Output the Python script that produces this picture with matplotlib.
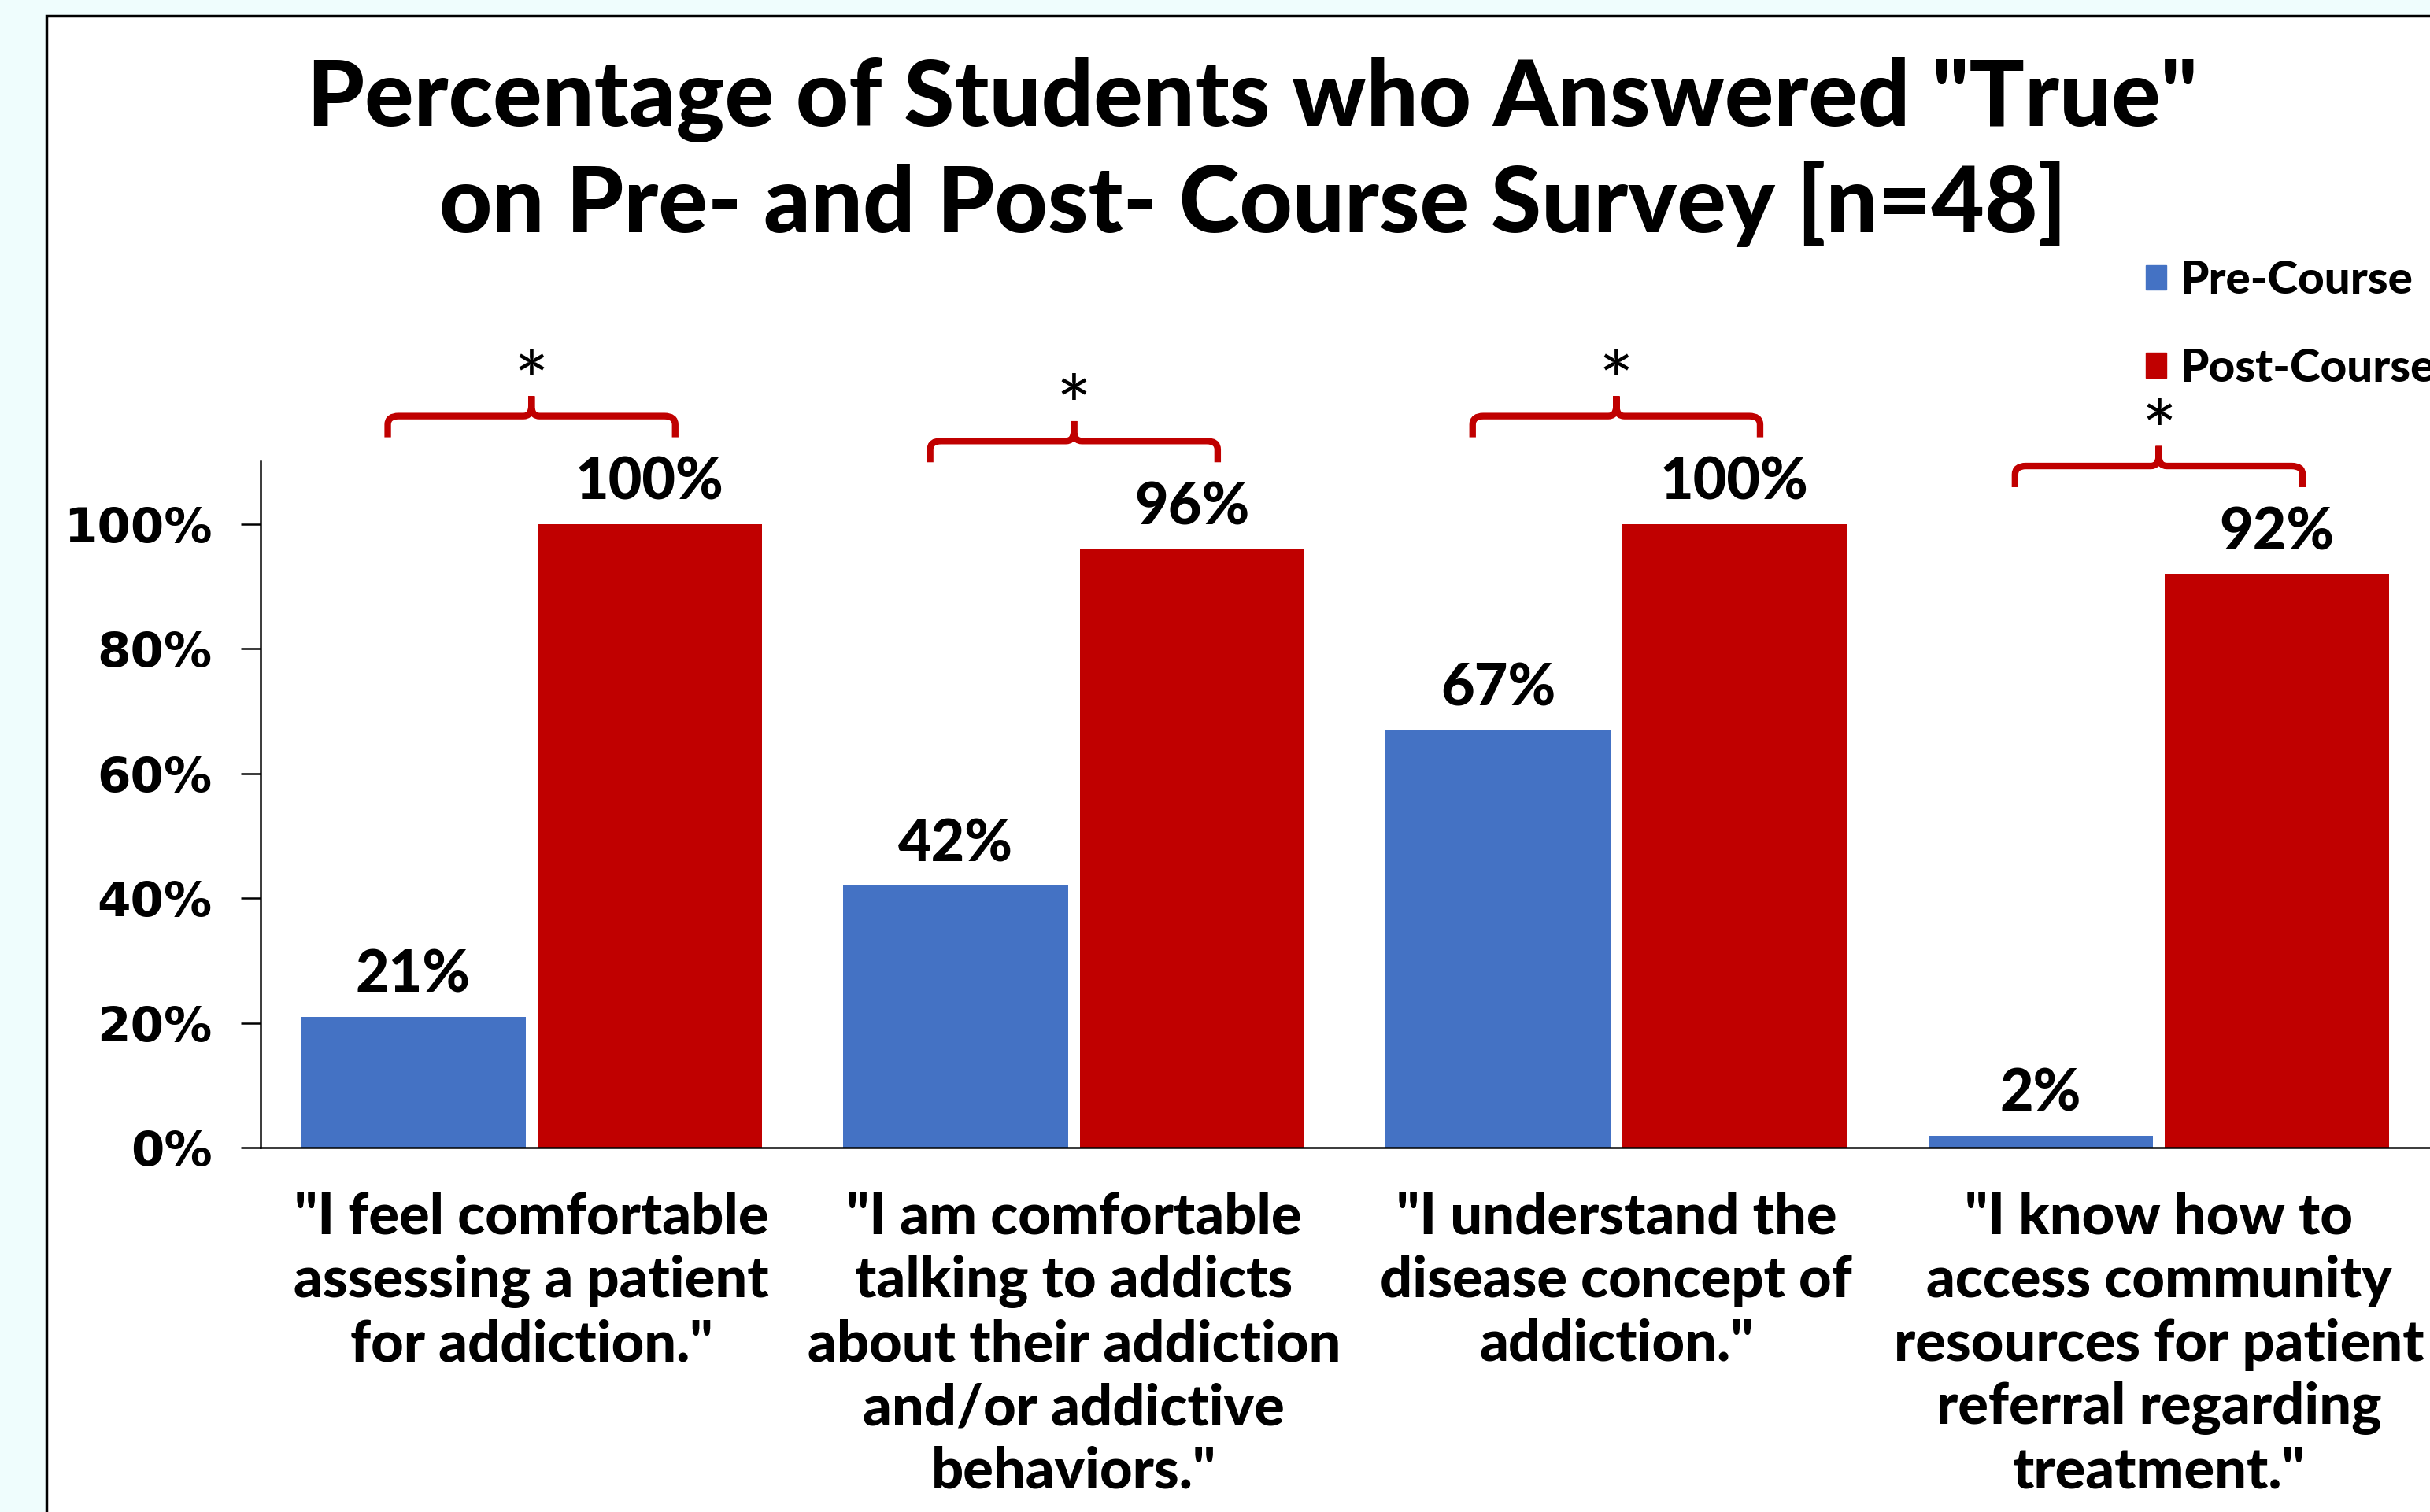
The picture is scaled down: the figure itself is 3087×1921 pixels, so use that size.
# Pre/Post course survey bar chart with significance brackets
import matplotlib.pyplot as plt
from matplotlib.patches import Rectangle, Patch, PathPatch
from matplotlib.path import Path
import numpy as np

categories = [
    '"I feel comfortable\nassessing a patient\nfor addiction."',
    '"I am comfortable\ntalking to addicts\nabout their addiction\nand/or addictive\nbehaviors."',
    '"I understand the\ndisease concept of\naddiction."',
    '"I know how to\naccess community\nresources for patient\nreferral regarding\ntreatment."',
]
pre_course = [21, 42, 67, 2]
post_course = [100, 96, 100, 92]
y_ticks = [0, 20, 40, 60, 80, 100]
series_names = ['Pre-Course', 'Post-Course']

c_azul = '#4472c4'
c_rojo = '#c00000'
c_fondo = '#effdfd'
fuente = 'Lato'
peso = 'black'


def dibujar_llave(ax, xc, y, half=0.265, drop=3.4, peak=3.2):
    # llave roja: extremos hacia abajo, pico hacia arriba en el centro
    verts, codes = [], []
    for s in (-1, 1):
        x0 = xc + s * half
        verts += [(x0, y - drop), (x0, y - 0.4 * drop), (x0, y), (x0 - s * 0.02, y),
                  (xc + s * 0.015, y), (xc, y), (xc, y + 0.5 * peak), (xc, y + peak)]
        codes += [Path.MOVETO, Path.LINETO, Path.CURVE3, Path.CURVE3,
                  Path.LINETO, Path.CURVE3, Path.CURVE3, Path.LINETO]
    patch = PathPatch(Path(verts, codes), fill=False, edgecolor=c_rojo, lw=6,
                      capstyle='butt', clip_on=False)
    ax.add_patch(patch)
    ax.annotate('*', (xc, y + peak), xytext=(0, -14), textcoords='offset points',
                ha='center', va='baseline', fontsize=76, family=fuente,
                color='black', annotation_clip=False)


fig = plt.figure(figsize=(30.87, 19.21), dpi=100)
fig.patch.set_facecolor(c_fondo)
fig.patches.append(Rectangle((0.019, -0.05), 1.0, 1.0398, transform=fig.transFigure,
                             facecolor='white', edgecolor='black', lw=2.5, zorder=0))

ax = fig.add_axes([0.1071, 0.2408, 0.8929, 0.4539])
ax.set_facecolor('none')
ax.set_zorder(2)

x = np.arange(len(categories))
w = 0.414
off = 0.218
b1 = ax.bar(x - off, pre_course, w, color=c_azul, label=series_names[0])
b2 = ax.bar(x + off, post_course, w, color=c_rojo, label=series_names[1])

for barras, vals in ((b1, pre_course), (b2, post_course)):
    for r, v in zip(barras, vals):
        ax.annotate(f'{v}%', (r.get_x() + r.get_width() / 2, v), xytext=(0, 13),
                    textcoords='offset points', ha='center', va='bottom',
                    fontsize=53, fontweight=peso, family=fuente)

for i in range(len(categories)):
    dibujar_llave(ax, x[i], max(pre_course[i], post_course[i]) + 17.3)

ax.set_xlim(-0.5, 3.5)
ax.set_ylim(0, 110)
ax.set_yticks(y_ticks)
ax.set_yticklabels([f'{t}%' for t in y_ticks], fontsize=44, fontweight='bold',
                   family='DejaVu Sans')
ax.tick_params(axis='y', length=18, width=1.8, pad=26, direction='out')
ax.set_xticks(x)
ax.set_xticklabels(categories, fontsize=52, fontweight=peso, family=fuente,
                   linespacing=1.25)
ax.tick_params(axis='x', length=0, pad=40)

for lado in ('top', 'right'):
    ax.spines[lado].set_visible(False)
for lado in ('left', 'bottom'):
    ax.spines[lado].set_linewidth(1.8)

fig.text(0.5155, 0.962,
         'Percentage of Students who Answered "True"\non Pre- and Post- Course Survey [n=48]',
         ha='center', va='top', fontsize=84, fontweight=peso, family=fuente,
         linespacing=1.25)

handles = [Patch(color=c_azul), Patch(color=c_rojo)]
fig.legend(handles, series_names, loc='upper left', bbox_to_anchor=(0.883, 0.828),
           frameon=False, prop={'family': fuente, 'weight': peso, 'size': 42},
           handlelength=0.45, handleheight=0.45, handletextpad=0.3,
           labelspacing=1.0, borderpad=0, borderaxespad=0)

plt.savefig('out.png', dpi=100, facecolor=fig.get_facecolor())
